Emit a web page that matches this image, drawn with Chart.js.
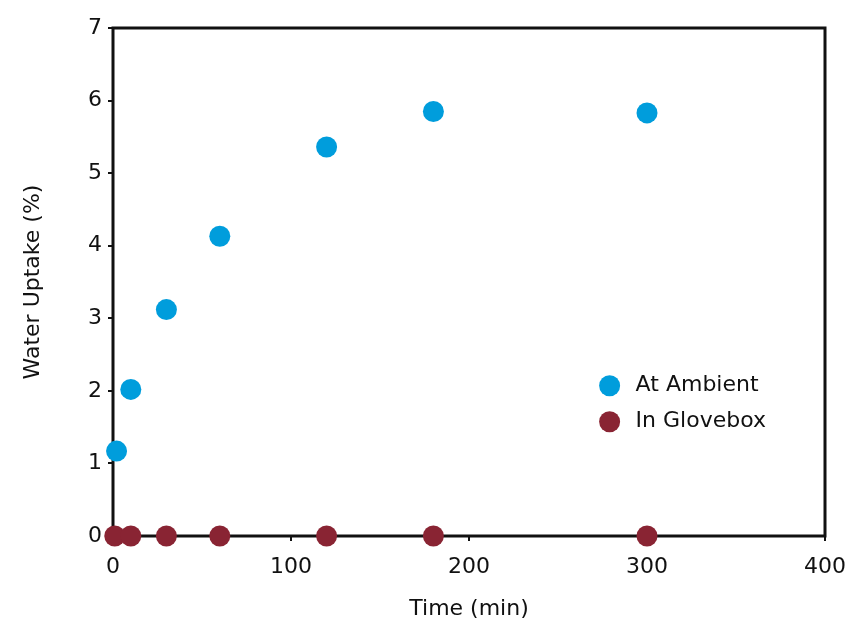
<!DOCTYPE html>
<html>
<head>
<meta charset="utf-8">
<script src="https://cdn.jsdelivr.net/npm/chart.js@4"></script>
<style>
  html, body { margin: 0; padding: 0; background: #fff; }
  #wrap { width: 852px; height: 622px; position: relative; }
</style>
</head>
<body>
<div id="wrap"><canvas id="myChart"></canvas></div>
<script>
var seriesNames = ['At Ambient', 'In Glovebox'];
var ambientTime = [2, 10, 30, 60, 120, 180, 300];
var ambientUptake = [1.17, 2.02, 3.12, 4.13, 5.36, 5.85, 5.83];
var gloveTime = [1, 10, 30, 60, 120, 180, 300];
var gloveUptake = [0, 0, 0, 0, 0, 0, 0];
var xTicks = [0, 100, 200, 300, 400];
var yTicks = [0, 1, 2, 3, 4, 5, 6, 7];

var fontFam = '"DejaVu Sans", sans-serif';
var blue = '#009ddc';
var maroon = '#892433';

// frame around plot area, drawn under the points
var frame = {
    id: 'frame',
    beforeDatasetsDraw: function(chart) {
        var a = chart.chartArea, c = chart.ctx;
        c.save();
        c.strokeStyle = '#111';
        c.lineWidth = 3;
        c.strokeRect(a.left, a.top, a.right - a.left, a.bottom - a.top);
        c.restore();
    }
};

// legend inside the plot
var innerLegend = {
    id: 'innerLegend',
    afterDraw: function(chart) {
        var c = chart.ctx;
        var xs = chart.scales.x, ys = chart.scales.y;
        var x0 = xs.getPixelForValue(279), y0 = ys.getPixelForValue(2.07);
        var colors = [blue, maroon];
        c.save();
        c.font = '22px ' + fontFam;
        c.textBaseline = 'middle';
        for (var i = 0; i < seriesNames.length; i++) {
            var yy = y0 + i * 36;
            c.beginPath();
            c.fillStyle = colors[i];
            c.arc(x0, yy, 10.5, 0, Math.PI * 2);
            c.fill();
            c.fillStyle = '#111';
            c.fillText(seriesNames[i], x0 + 26, yy);
        }
        c.restore();
    }
};

var ctx = document.getElementById('myChart');
var myChart = new Chart(ctx, {
    type: 'scatter',
    data: {
        datasets: [{
            label: seriesNames[0],
            data: ambientTime.map((v, i) => ({ x: v, y: ambientUptake[i] })),
            backgroundColor: blue,
            borderColor: blue,
            pointBorderWidth: 0,
            pointRadius: 10.5,
            clip: false
        }, {
            label: seriesNames[1],
            data: gloveTime.map((v, i) => ({ x: v, y: gloveUptake[i] })),
            backgroundColor: maroon,
            borderColor: maroon,
            pointBorderWidth: 0,
            pointRadius: 10.5,
            clip: false
        }]
    },
    plugins: [frame, innerLegend],
    options: {
        responsive: true,
        maintainAspectRatio: false,
        animation: false,
        layout: { padding: { top: 28, right: 27, left: 0, bottom: 0 } },
        plugins: {
            legend: { display: false },
            tooltip: { enabled: false }
        },
        scales: {
            x: {
                type: 'linear',
                min: 0,
                max: 400,
                afterBuildTicks: function(ax) { ax.ticks = xTicks.map(v => ({ value: v })); },
                afterFit: function(ax) { ax.height = 86; ax.paddingRight = 0; ax.paddingLeft = 0; },
                grid: { drawOnChartArea: false, drawTicks: true, tickLength: 5, lineWidth: 2, color: '#111' },
                border: { display: false },
                ticks: { color: '#111', padding: 13, font: { family: fontFam, size: 22 }, maxRotation: 0 },
                title: {
                    display: true,
                    text: 'Time (min)',
                    color: '#111',
                    font: { family: fontFam, size: 22 },
                    padding: { top: 4, bottom: 0 }
                }
            },
            y: {
                type: 'linear',
                min: 0,
                max: 7,
                afterBuildTicks: function(ax) { ax.ticks = yTicks.map(v => ({ value: v })); },
                afterFit: function(ax) { ax.width = 113; ax.paddingTop = 0; ax.paddingBottom = 0; },
                grid: { drawOnChartArea: false, drawTicks: true, tickLength: 5, lineWidth: 2, color: '#111' },
                border: { display: false },
                ticks: { color: '#111', padding: 6, font: { family: fontFam, size: 22 } },
                title: {
                    display: true,
                    text: 'Water Uptake (%)',
                    color: '#111',
                    font: { family: fontFam, size: 22 },
                    padding: { top: 20, bottom: 0 }
                }
            }
        }
    }
});
</script>
</body>
</html>
